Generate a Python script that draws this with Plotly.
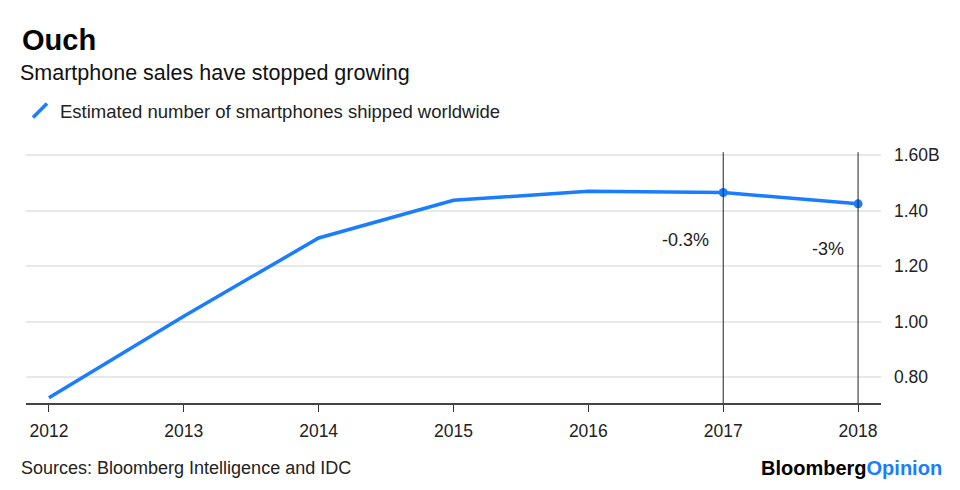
import plotly.graph_objects as go

years = [2012, 2013, 2014, 2015, 2016, 2017, 2018]
shipments_b = [0.725, 1.019, 1.301, 1.437, 1.469, 1.465, 1.424]
marked_years = [2017, 2018]
marked_vals = [1.465, 1.424]
change_labels = ["-0.3%", "-3%"]
change_label_y = [1.292, 1.262]
y_tickvals = [0.8, 1.0, 1.2, 1.4, 1.6]
y_ticktext = ["0.80", "1.00", "1.20", "1.40", "1.60B"]

BLUE = "#1A7DFF"
FONT = "Liberation Sans, Arial, Helvetica, sans-serif"

# page body has an 8px margin: draw in coordinates shifted by 8px
OFF = 8
W, H = 960 - OFF, 490 - OFF
PL, PR, PT, PB = 24, 881, 150, 403  # plot area in page coordinates
pw, ph = PR - PL, PB - PT


def py(y):  # page y -> paper y
    return (PB - y) / ph


def px(x):  # page x -> paper x
    return (x - PL) / pw


fig = go.Figure()
fig.add_trace(go.Scatter(x=years, y=shipments_b, mode="lines",
                         line=dict(color=BLUE, width=3.5), showlegend=False, hoverinfo="skip"))
fig.add_trace(go.Scatter(x=marked_years, y=marked_vals, mode="markers",
                         marker=dict(color=BLUE, size=9), showlegend=False))
fig.add_trace(go.Scatter(x=[None], y=[None], mode="markers",
                         name="Estimated number of smartphones shipped worldwide",
                         marker=dict(symbol="line-ne", size=14, line=dict(color=BLUE, width=3.5))))

for yr in marked_years:
    fig.add_shape(type="line", xref="x", yref="y", x0=yr, x1=yr, y0=0.7063, y1=1.61,
                  line=dict(color="#222", width=1))

for yr, lab, ly in zip(marked_years, change_labels, change_label_y):
    fig.add_annotation(x=yr, y=ly, text=lab, showarrow=False, xanchor="right",
                       xshift=-12, font=dict(size=18, color="#222", family=FONT))

fig.update_layout(
    width=W, height=H,
    margin=dict(l=PL - OFF, r=W - (PR - OFF), t=PT - OFF, b=H - (PB - OFF)),
    paper_bgcolor="white", plot_bgcolor="white",
    font=dict(family=FONT, size=17, color="#222"),
    title=dict(text="<b>Ouch</b>", x=(22 - OFF) / W, xanchor="left", y=1 - (40 - OFF) / H,
               yanchor="middle", font=dict(size=29, color="#000", family=FONT)),
    legend=dict(orientation="h", x=px(18), xanchor="left", y=py(111), yanchor="middle",
                font=dict(size=18.5, color="#222", family=FONT), itemwidth=30,
                bgcolor="rgba(0,0,0,0)"),
    xaxis=dict(range=[2011.83, 2018.17], tickvals=years, ticks="outside", ticklen=7,
               tickcolor="#333", tickwidth=1, showgrid=False, zeroline=False,
               showline=True, linecolor="#444", linewidth=1.5,
               tickfont=dict(size=17.5, color="#222"), ticklabelstandoff=4, fixedrange=True),
    yaxis=dict(range=[0.7063, 1.618], side="right", tickvals=y_tickvals, ticktext=y_ticktext,
               showgrid=True, gridcolor="#e8e8e8", gridwidth=1.5, zeroline=False,
               ticks="", tickfont=dict(size=17.5, color="#222"), ticklabelstandoff=12,
               showline=False),
)

fig.add_annotation(xref="paper", yref="paper", x=px(16), y=py(73), xanchor="left",
                   yanchor="middle", text="Smartphone sales have stopped growing",
                   showarrow=False, font=dict(size=21.5, color="#111", family=FONT))
fig.add_annotation(xref="paper", yref="paper", x=px(17), y=py(468), xanchor="left",
                   yanchor="middle", text="Sources: Bloomberg Intelligence and IDC",
                   showarrow=False, font=dict(size=18, color="#222", family=FONT))
fig.add_annotation(xref="paper", yref="paper", x=px(944), y=py(468),
                   xanchor="right", yanchor="middle",
                   text="<b>Bloomberg</b><b style='color:" + BLUE + "'>Opinion</b>",
                   showarrow=False, font=dict(size=20, color="#000", family=FONT))

fig.write_html("out.html")
